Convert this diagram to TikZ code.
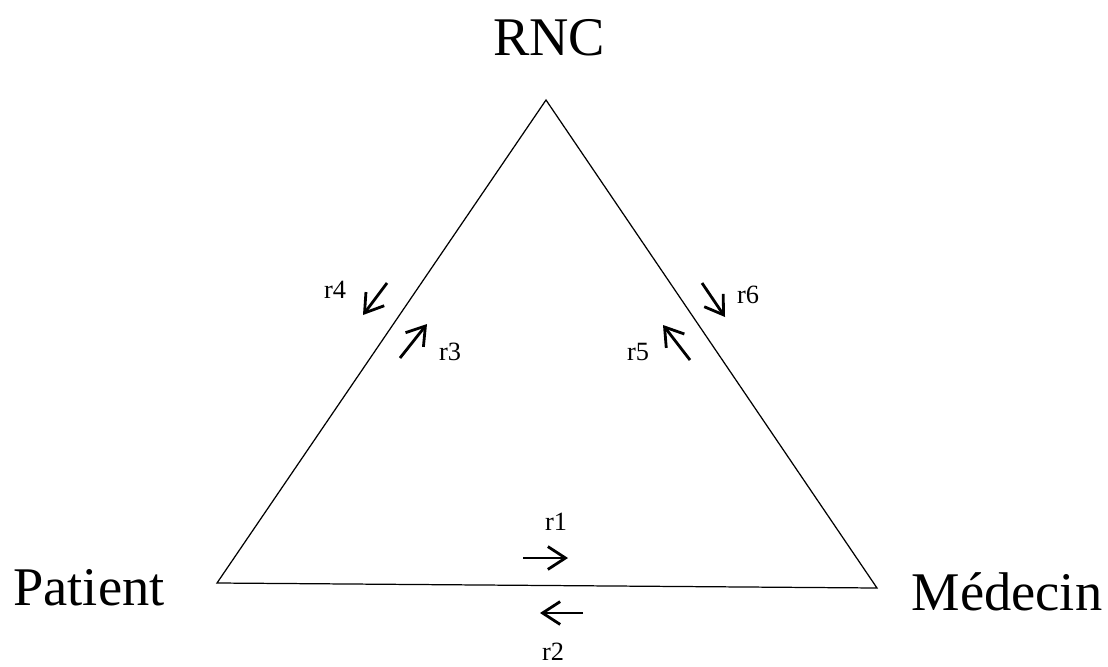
\documentclass[tikz,border=0pt]{standalone}
\usepackage{fontspec}
\setmainfont{Liberation Serif}
\usetikzlibrary{arrows.meta}
\begin{document}
\begin{tikzpicture}[x=0.02cm, y=-0.02cm,
    actor/.style={font=\fontsize{31}{36}\selectfont, inner sep=0pt, anchor=base},
    rlabel/.style={font=\fontsize{15}{18}\selectfont, inner sep=0pt, anchor=base},
    flow/.style={-{Straight Barb[length=10pt, width=13pt]}, line width=1.6pt}]
    \useasboundingbox (0,0) rectangle (1108,666);
    % sommets du triangle
    \coordinate (top) at (546,100);
    \coordinate (left) at (217,583);
    \coordinate (right) at (877,588);
    \draw[line width=0.7pt] (top) -- (left) -- (right) -- cycle;
    \node[actor] (rnc) at (549,55) {RNC};
    \node[actor] (pat) at (89,605) {Patient};
    \node[actor] (med) at (1007,610) {Médecin};
    % fleches
    \coordinate (r1a) at (523,558); \coordinate (r1b) at (568,558);
    \coordinate (r2a) at (583,613); \coordinate (r2b) at (540,613);
    \coordinate (r3a) at (400,358); \coordinate (r3b) at (427,324);
    \coordinate (r4a) at (387,283); \coordinate (r4b) at (363,315);
    \coordinate (r5a) at (690,360); \coordinate (r5b) at (663,325);
    \coordinate (r6a) at (702,283); \coordinate (r6b) at (725,317);
    \draw[flow] (r1a) -- (r1b);
    \draw[flow] (r2a) -- (r2b);
    \draw[flow] (r3a) -- (r3b);
    \draw[flow] (r4a) -- (r4b);
    \draw[flow] (r5a) -- (r5b);
    \draw[flow] (r6a) -- (r6b);
    \node[rlabel] (l1) at (556,530) {r1};
    \node[rlabel] (l2) at (553,660) {r2};
    \node[rlabel] (l3) at (450,360) {r3};
    \node[rlabel] (l4) at (335,298) {r4};
    \node[rlabel] (l5) at (638,360) {r5};
    \node[rlabel] (l6) at (748,303) {r6};
\end{tikzpicture}
\end{document}
